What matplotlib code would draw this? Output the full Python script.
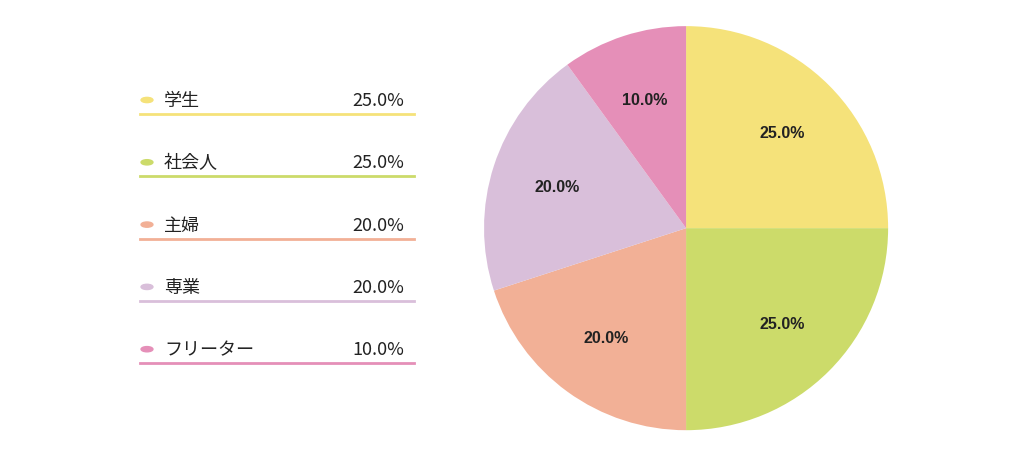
import matplotlib
matplotlib.use("Agg")
import matplotlib.pyplot as plt
from matplotlib.lines import Line2D

categories = ["学生", "社会人", "主婦", "専業", "フリーター"]
values = [25.0, 25.0, 20.0, 20.0, 10.0]
colors = ["#F5E27A", "#CCDB6A", "#F2B096", "#D9BFDA", "#E58FB8"]

W, H = 1024, 452
fig = plt.figure(figsize=(W/100, H/100), dpi=100)
ax = fig.add_axes([0.67-0.1973, 0.493-0.447, 0.3946, 0.894])
wedges, texts, autotexts = ax.pie(values, colors=colors, startangle=90, counterclock=False,
       autopct="%.1f%%", pctdistance=0.67, radius=1.0,
       textprops=dict(fontsize=11.5, fontweight="bold", family="Liberation Sans", color="#222222"))
ax.set_xlim(-1, 1); ax.set_ylim(-1, 1); ax.set_aspect("equal")
ax.axis("off")

def fx(x): return x / W
def fy(y): return 1 - y / H

for i, (c, v, col) in enumerate(zip(categories, values, colors)):
    y = 101 + i * 62.3
    fig.patches.append(plt.Circle((fx(147), fy(y)), 0.0058, transform=fig.transFigure,
                                  color=col, figure=fig))
    fig.text(fx(164), fy(y), c, fontsize=13, va="center", ha="left",
             family=["Noto Sans CJK JP", "DejaVu Sans"], color="#222222")
    fig.text(fx(404), fy(y), f"{v:.1f}%", fontsize=13, va="center", ha="right",
             family=["Noto Sans CJK JP", "DejaVu Sans"], color="#222222")
    fig.add_artist(Line2D([fx(140), fx(414)], [fy(y + 14), fy(y + 14)], color=col, lw=2))

fig.savefig("out.png", dpi=100)
